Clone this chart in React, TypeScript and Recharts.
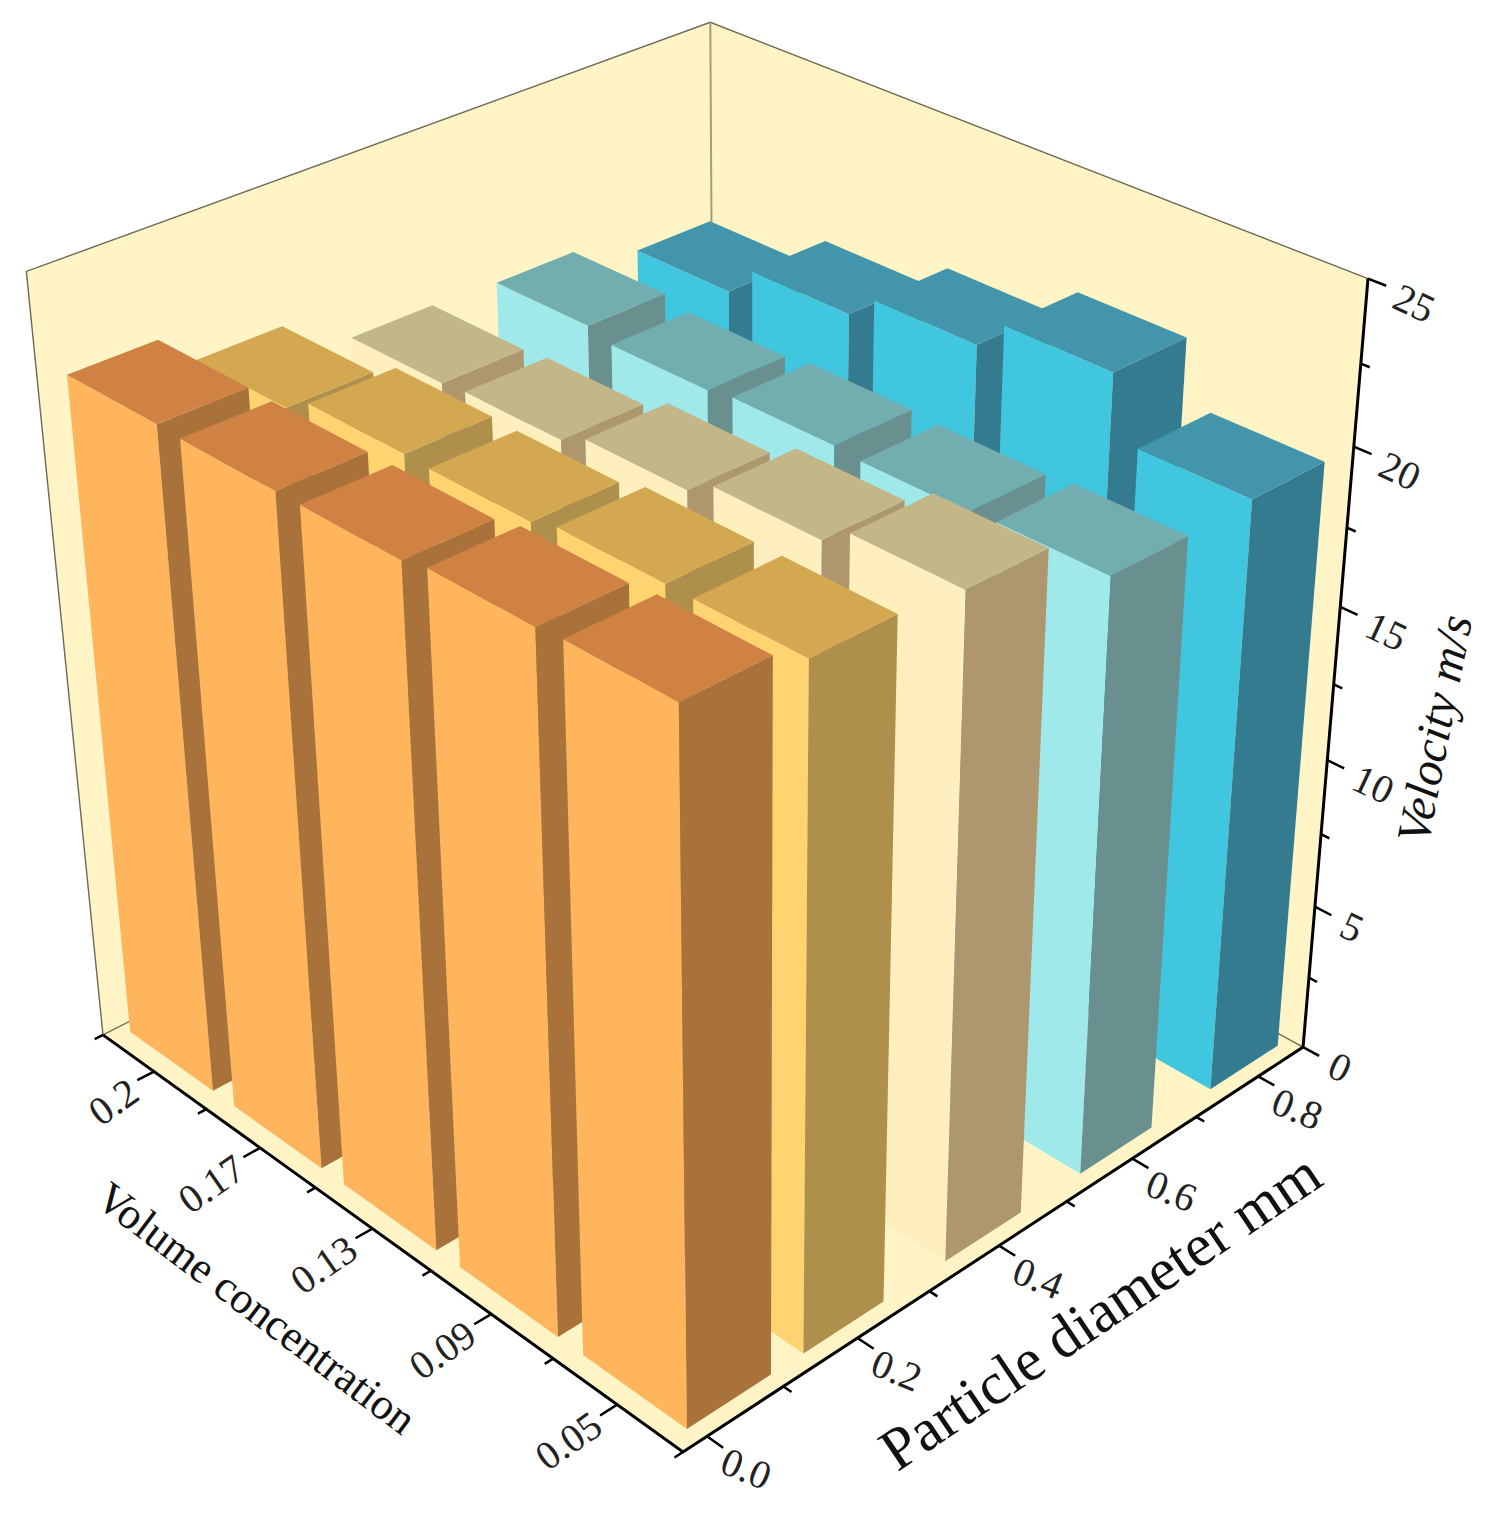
import { Scatter, ScatterChart, XAxis, YAxis } from "recharts"

const WIDTH = 1491
const HEIGHT = 1519

const diameters = ["0.0", "0.2", "0.4", "0.6", "0.8"]
const concentrations = ["0.05", "0.09", "0.13", "0.17", "0.2"]
const velocityTicks = [0, 5, 10, 15, 20, 25]

// velocity per diameter, one value per concentration (front to back)
const velocity00 = [22.1, 22.0, 21.8, 21.8, 21.85]
const velocity02 = [21.5, 21.5, 21.25, 21.3, 20.8]
const velocity04 = [21.2, 20.6, 20.1, 19.7, 19.6]
const velocity06 = [19.4, 19.3, 19.4, 19.25, 19.5]
const velocity08 = [19.5, 21.46, 20.5, 19.7, 18.7]

const velocities = [velocity00, velocity02, velocity04, velocity06, velocity08]

const faces = [
  { left: "#FFB55C", right: "#A8723A", top: "#CF8243" },
  { left: "#FFD470", right: "#AE8F4C", top: "#D3A851" },
  { left: "#FFEFBE", right: "#AE966E", top: "#C3B78A" },
  { left: "#A0E9EA", right: "#6A8F8F", top: "#72ADB0" },
  { left: "#41C6E0", right: "#347B8F", top: "#4295AA" },
]

const WALL = "#FFF4C6"
const EDGE = "#6f6a58"
const FONT = "'Liberation Serif', 'Times New Roman', serif"

// camera: box coords u (diameter), v (concentration), w (velocity) all 0..1
function project(u: number, v: number, w: number): [number, number] {
  const d = 1 + 0.1443 * u + 0.1529 * v - 0.1212 * w
  const x = 683 + 808.1 * u - 564.3 * v - 91.5 * w
  const y = 1452 - 253.8 * u - 258.9 * v - 913.1 * w
  return [x / d, y / d]
}

const pts = (list: [number, number][]) => list.map((p) => p.join(",")).join(" ")

// the first column sits a bit off its tick in the original, the others are centred
const barCentres = [0.0875, 0.257, 0.475, 0.695, 0.92]
const BAR_V = (i: number) => 0.1025 + 0.2 * i
const BAR_W = 0.1215
const BAR_D = 0.16
const TICK_U = (i: number) => 0.034 + 0.221 * i
const TICK_V = (i: number) => 0.1 + 0.2 * i

// bars are painted back to front
function barRows(col: number) {
  return velocities[col]
    .map((value, row) => {
      const [sx, sy] = project(barCentres[col], BAR_V(row), 0)
      return { sx, sy, value, u: barCentres[col], v: BAR_V(row), col }
    })
    .reverse()
}

function Box(props: any) {
  const { u, v, value, col } = props.payload
  const u0 = u - BAR_W / 2
  const u1 = u + BAR_W / 2
  const v0 = v - BAR_D / 2
  const v1 = v + BAR_D / 2
  const w = value / 25
  const c = faces[col]
  return (
    <g>
      <polygon points={pts([project(u0, v0, 0), project(u0, v1, 0), project(u0, v1, w), project(u0, v0, w)])} fill={c.left} />
      <polygon points={pts([project(u0, v0, 0), project(u1, v0, 0), project(u1, v0, w), project(u0, v0, w)])} fill={c.right} />
      <polygon points={pts([project(u0, v0, w), project(u1, v0, w), project(u1, v1, w), project(u0, v1, w)])} fill={c.top} />
    </g>
  )
}

function Frame() {
  const A = project(0, 0, 0)
  const B = project(1, 0, 0)
  const C = project(0, 1, 0)
  const D = project(1, 1, 0)
  const E = project(1, 0, 1)
  const F = project(0, 1, 1)
  const G = project(1, 1, 1)
  return (
    <g>
      <polygon points={pts([A, B, D, C])} fill={WALL} stroke={WALL} />
      <polygon points={pts([C, D, G, F])} fill={WALL} stroke={WALL} />
      <polygon points={pts([B, D, G, E])} fill={WALL} stroke={WALL} />
      <polyline points={pts([C, F, G, E])} fill="none" stroke={EDGE} strokeWidth={1.4} />
      <line x1={D[0]} y1={D[1]} x2={G[0]} y2={G[1]} stroke="#a89c78" strokeWidth={2} />
      <line x1={C[0]} y1={C[1]} x2={D[0]} y2={D[1]} stroke={EDGE} strokeWidth={1.2} />
      <line x1={B[0]} y1={B[1]} x2={D[0]} y2={D[1]} stroke={EDGE} strokeWidth={1.2} />
    </g>
  )
}

function Axes() {
  const A = project(0, 0, 0)
  const B = project(1, 0, 0)
  const C = project(0, 1, 0)
  const E = project(1, 0, 1)
  return (
    <g fontFamily={FONT} fill="#111">
      <polyline points={pts([C, A, B, E])} fill="none" stroke="#000" strokeWidth={3} />
      <text transform="translate(102,1192) rotate(37)" fontSize={44} dominantBaseline="central">
        Volume concentration
      </text>
      <text transform="translate(886,1456) rotate(-34)" fontSize={60} dominantBaseline="central">
        Particle diameter mm
      </text>
      <text transform="translate(1412,842) rotate(-79)" fontSize={48} fontStyle="italic" dominantBaseline="central">
        Velocity m/s
      </text>
    </g>
  )
}

function tick(
  from: [number, number, number],
  to: [number, number, number],
  label: string,
  dx: number,
  dy: number,
  rotate: number,
  anchor: string,
) {
  const [sx, sy] = project(...from)
  const [ex, ey] = project(...to)
  return { sx, sy, ex, ey, label, dx, dy, rotate, anchor }
}

const majorLen = 0.024
const minorLen = 0.012

const tickRows = [
  ...diameters.map((d, i) => tick([TICK_U(i), 0, 0], [TICK_U(i), -majorLen, 0], d, 16, 23, 22, "start")),
  ...diameters.slice(0, 4).map((_, i) => tick([TICK_U(i + 0.5), 0, 0], [TICK_U(i + 0.5), -minorLen, 0], "", 0, 0, 0, "start")),
  ...concentrations.map((c, i) => tick([0, TICK_V(i), 0], [-majorLen, TICK_V(i), 0], c, -20, 16, -35, "end")),
  ...[0, 0.2, 0.4, 0.6, 0.8, 1].map((v) => tick([0, v, 0], [-minorLen, v, 0], "", 0, 0, 0, "end")),
  ...velocityTicks.map((t) => tick([1, 0, t / 25], [1, -majorLen, t / 25], String(t), 28, 16, 25, "start")),
  ...velocityTicks.slice(0, 5).map((t) => tick([1, 0, (t + 2.5) / 25], [1, -minorLen, (t + 2.5) / 25], "", 0, 0, 0, "start")),
]

function TickMark(props: any) {
  const { cx, cy, payload } = props
  const { ex, ey, sx, sy, label, dx, dy, rotate, anchor } = payload
  return (
    <g>
      <line x1={cx} y1={cy} x2={cx + ex - sx} y2={cy + ey - sy} stroke="#000" strokeWidth={2.5} />
      {label !== "" && (
        <text
          transform={`translate(${cx + dx},${cy + dy}) rotate(${rotate})`}
          fontFamily={FONT}
          fontSize={40}
          fill="#222"
          textAnchor={anchor}
          dominantBaseline="central"
        >
          {label}
        </text>
      )}
    </g>
  )
}

const origin = [{ sx: project(0, 0, 0)[0], sy: project(0, 0, 0)[1] }]

export default function App() {
  return (
    <div style={{ position: "absolute", left: 0, top: 0, width: WIDTH, height: HEIGHT, background: "#fff" }}>
      <ScatterChart width={WIDTH} height={HEIGHT} margin={{ top: 0, right: 0, bottom: 0, left: 0 }}>
        <XAxis type="number" dataKey="sx" domain={[0, WIDTH]} hide />
        <YAxis type="number" dataKey="sy" domain={[0, HEIGHT]} reversed hide />
        <Scatter data={origin} shape={Frame} isAnimationActive={false} />
        {[4, 3, 2, 1, 0].map((col) => (
          <Scatter key={col} data={barRows(col)} shape={Box} isAnimationActive={false} />
        ))}
        <Scatter data={origin} shape={Axes} isAnimationActive={false} />
        <Scatter data={tickRows} shape={TickMark} isAnimationActive={false} />
      </ScatterChart>
    </div>
  )
}
